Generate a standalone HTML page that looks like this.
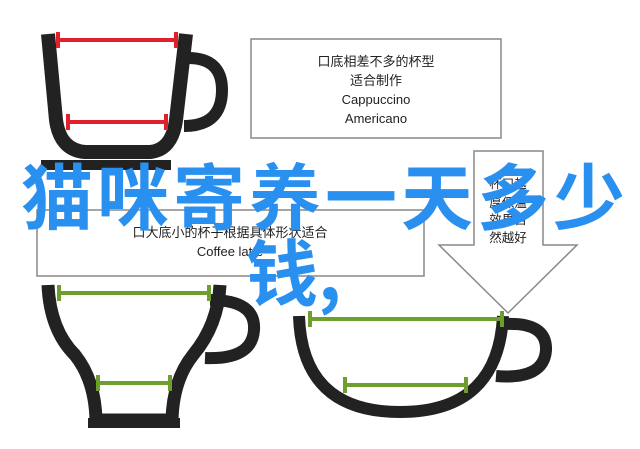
<!DOCTYPE html>
<html><head><meta charset="utf-8"><style>
html,body{margin:0;padding:0;background:#fff;width:640px;height:449px;overflow:hidden}
svg{display:block}
.t{font-family:"Liberation Sans","Noto Sans CJK SC",sans-serif;fill:#222}
.b{font-family:"Noto Sans CJK SC","WenQuanYi Zen Hei",sans-serif;fill:#2a90f0;font-weight:bold}
</style></head><body>
<svg width="640" height="449" viewBox="0 0 640 449" xmlns="http://www.w3.org/2000/svg">
<!-- cup1 -->
<path d="M48 34 L56 120 Q60 150 85 152 L150 152 Q172 150 176 120 L186 34" fill="none" stroke="#222" stroke-width="14"/>
<path d="M188 58 Q222 58 222 90 Q222 126 184 126" fill="none" stroke="#222" stroke-width="12"/>
<rect x="41" y="160" width="130" height="10" fill="#222"/>
<g stroke="#e0202a" stroke-width="4"><line x1="58" y1="40" x2="176" y2="40"/><line x1="58" y1="32" x2="58" y2="48"/><line x1="176" y1="32" x2="176" y2="48"/>
<line x1="68" y1="122" x2="166" y2="122"/><line x1="68" y1="114" x2="68" y2="130"/><line x1="166" y1="114" x2="166" y2="130"/></g>
<!-- box1 -->
<rect x="251" y="39" width="250" height="99" fill="#fff" stroke="#888" stroke-width="1.5"/>
<g class="t" font-size="13" text-anchor="middle"><text x="376" y="66">口底相差不多的杯型</text><text x="376" y="85">适合制作</text><text x="376" y="104">Cappuccino</text><text x="376" y="123">Americano</text></g>
<!-- box2 -->
<rect x="37" y="210" width="387" height="66" fill="#fff" stroke="#888" stroke-width="1.5"/>
<g class="t" font-size="13" text-anchor="middle"><text x="230" y="237">口大底小的杯子根据具体形状适合</text><text x="230" y="256">Coffee latte</text></g>
<!-- arrow -->
<path d="M474 151 L543 151 L543 245 L577 245 L508 313 L439 245 L474 245 Z" fill="#fff" stroke="#888" stroke-width="1.5"/>
<g class="t" font-size="12.5" text-anchor="middle"><text x="508" y="188">杯口越</text><text x="508" y="207">厚保温</text><text x="508" y="224">效果自</text><text x="508" y="242">然越好</text></g>
<!-- cup2 -->
<path d="M48 285 Q50 330 75 355 Q95 380 96 420 L172 420 Q173 380 193 355 Q218 325 220 285" fill="none" stroke="#222" stroke-width="13"/>
<rect x="88" y="418" width="92" height="10" fill="#222"/>
<path d="M210 300 Q256 300 254 330 Q252 360 205 358" fill="none" stroke="#222" stroke-width="12"/>
<g stroke="#6e9e2e" stroke-width="4"><line x1="59" y1="293" x2="209" y2="293"/><line x1="59" y1="285" x2="59" y2="301"/><line x1="209" y1="285" x2="209" y2="301"/>
<line x1="98" y1="383" x2="170" y2="383"/><line x1="98" y1="375" x2="98" y2="391"/><line x1="170" y1="375" x2="170" y2="391"/></g>
<!-- cup3 -->
<path d="M299 316 Q302 412 400 412 Q498 412 503 316" fill="none" stroke="#222" stroke-width="12"/>
<path d="M505 324 Q547 322 546 350 Q544 380 496 376" fill="none" stroke="#222" stroke-width="12"/>
<g stroke="#6e9e2e" stroke-width="4"><line x1="310" y1="319" x2="502" y2="319"/><line x1="310" y1="311" x2="310" y2="327"/><line x1="502" y1="311" x2="502" y2="327"/>
<line x1="345" y1="385" x2="466" y2="385"/><line x1="345" y1="377" x2="345" y2="393"/><line x1="466" y1="377" x2="466" y2="393"/></g>
<!-- title -->
<text class="b" x="21" y="224" font-size="72" letter-spacing="4">猫咪寄养一天多少</text>
<text class="b" x="246" y="300" font-size="72">钱,</text>
</svg>
</body></html>
